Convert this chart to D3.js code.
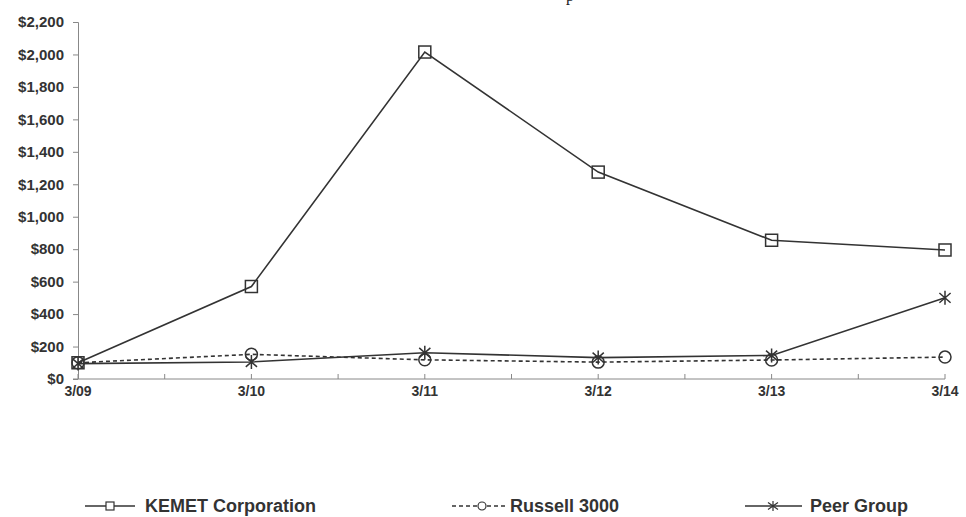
<!DOCTYPE html>
<html lang="en">
<head>
    <meta charset="UTF-8">
    <title>Cumulative Total Return</title>
    <script src="https://d3js.org/d3.v7.min.js"></script>
    <style>
        html, body { margin: 0; padding: 0; background: #fff; overflow: hidden; }
        svg { display: block; }
        text { font-family: "Liberation Sans", Arial, sans-serif; }
    </style>
</head>
<body>
<svg width="966" height="517"></svg>
<script>
    const width = 966;
    const height = 517;
    const margin = {top: 22, right: 21, bottom: 138, left: 78};
    const innerWidth = width - margin.left - margin.right;
    const innerHeight = height - margin.top - margin.bottom;

    // data
    const periods = ["3/09", "3/10", "3/11", "3/12", "3/13", "3/14"];
    const kemet = [100, 570, 2015, 1275, 855, 795];
    const russell = [100, 152, 118, 104, 117, 135];
    const peer = [95, 105, 162, 132, 145, 500];
    const yTicks = [0, 200, 400, 600, 800, 1000, 1200, 1400, 1600, 1800, 2000, 2200];

    const svg = d3.select('svg')
        .attr('width', width)
        .attr('height', height);

    // cut-off title remnant at the very top
    svg.append("text")
        .attr("x", 570)
        .attr("y", 1)
        .attr("text-anchor", "middle")
        .style("font-family", "'Liberation Serif', serif")
        .style("font-size", "16px")
        .style("fill", "#222")
        .text("p");

    const g = svg.append('g')
        .attr('transform', `translate(${margin.left},${margin.top})`);

    const x = d3.scalePoint()
        .domain(periods)
        .range([0, innerWidth]);

    const y = d3.scaleLinear()
        .domain([0, 2200])
        .range([innerHeight, 0]);

    // y axis
    const yAxis = g.append("g")
        .call(d3.axisLeft(y).tickValues(yTicks).tickSize(5).tickPadding(9)
            .tickFormat(d => "$" + d3.format(",")(d)));
    yAxis.select(".domain").attr("stroke", "#888").attr("d", `M-5,0.5H0.5V${innerHeight}`);
    yAxis.selectAll(".tick line").attr("stroke", "#888");
    yAxis.selectAll("text")
        .style("font-size", "15px")
        .style("font-weight", "bold")
        .style("fill", "#333");

    // x axis with half-step minor ticks
    const step = x.step();
    const xTickPos = d3.range(0, periods.length * 2 - 1).map(i => i * step / 2);
    const xg = g.append("g").attr("transform", `translate(0,${innerHeight})`);
    xg.append("line")
        .attr("x1", -5).attr("x2", innerWidth)
        .attr("stroke", "#888");
    xg.selectAll("line.tk")
        .data(xTickPos).enter().append("line")
        .attr("class", "tk")
        .attr("x1", d => d).attr("x2", d => d)
        .attr("y1", 0).attr("y2", -5)
        .attr("stroke", "#888");
    xg.selectAll("text")
        .data(periods).enter().append("text")
        .attr("x", d => x(d))
        .attr("y", 17)
        .attr("text-anchor", "middle")
        .style("font-size", "14px")
        .style("font-weight", "bold")
        .style("fill", "#333")
        .text(d => d);

    const line = d3.line()
        .x((d, i) => x(periods[i]))
        .y(d => y(d));

    const stroke = "#333";

    // marker drawers
    function drawSquare(sel, cx, cy) {
        sel.append("rect")
            .attr("x", cx - 6).attr("y", cy - 6)
            .attr("width", 12).attr("height", 12)
            .attr("fill", "none").attr("stroke", stroke).attr("stroke-width", 1.5);
    }
    function drawCircle(sel, cx, cy) {
        sel.append("circle")
            .attr("cx", cx).attr("cy", cy).attr("r", 6)
            .attr("fill", "none").attr("stroke", stroke).attr("stroke-width", 1.5);
    }
    function drawStar(sel, cx, cy) {
        const r = 7;
        const p = `M${cx},${cy - r}V${cy + r}` +
            `M${cx - r * 0.8},${cy - r * 0.7}L${cx + r * 0.8},${cy + r * 0.7}` +
            `M${cx - r * 0.8},${cy + r * 0.7}L${cx + r * 0.8},${cy - r * 0.7}`;
        sel.append("path").attr("d", p)
            .attr("fill", "none").attr("stroke", stroke).attr("stroke-width", 1.5);
    }

    const series = [
        {name: "KEMET Corporation", values: kemet, dash: null, marker: drawSquare},
        {name: "Russell 3000", values: russell, dash: "4,3", marker: drawCircle},
        {name: "Peer Group", values: peer, dash: null, marker: drawStar}
    ];

    series.forEach(function(s) {
        g.append("path")
            .datum(s.values)
            .attr("d", line)
            .attr("fill", "none")
            .attr("stroke", stroke)
            .attr("stroke-width", 1.6)
            .attr("stroke-dasharray", s.dash);
        const mg = g.append("g");
        s.values.forEach(function(v, i) {
            s.marker(mg, x(periods[i]), y(v));
        });
    });

    // legend
    const legendY = 506;
    const legendItems = [
        {x1: 85, x2: 135, mx: 110, tx: 145},
        {x1: 452, x2: 505, mx: 482, tx: 510},
        {x1: 745, x2: 802, mx: 773, tx: 810}
    ];
    const leg = svg.append("g");
    series.forEach(function(s, i) {
        const it = legendItems[i];
        leg.append("line")
            .attr("x1", it.x1).attr("x2", it.x2)
            .attr("y1", legendY).attr("y2", legendY)
            .attr("stroke", stroke).attr("stroke-width", 1.5)
            .attr("stroke-dasharray", s.dash);
        if (i === 0) {
            leg.append("rect")
                .attr("x", it.mx - 4).attr("y", legendY - 4)
                .attr("width", 8).attr("height", 8)
                .attr("fill", "#fff").attr("stroke", stroke).attr("stroke-width", 1.2);
        } else if (i === 1) {
            leg.append("circle")
                .attr("cx", it.mx).attr("cy", legendY).attr("r", 4)
                .attr("fill", "#fff").attr("stroke", stroke).attr("stroke-width", 1.2);
        } else {
            const r = 5;
            leg.append("path")
                .attr("d", `M${it.mx},${legendY - r}V${legendY + r}` +
                    `M${it.mx - r},${legendY - r * 0.7}L${it.mx + r},${legendY + r * 0.7}` +
                    `M${it.mx - r},${legendY + r * 0.7}L${it.mx + r},${legendY - r * 0.7}`)
                .attr("stroke", stroke).attr("stroke-width", 1.2);
        }
        leg.append("text")
            .attr("x", it.tx)
            .attr("y", legendY + 6)
            .style("font-size", "18px")
            .style("font-weight", "bold")
            .style("fill", "#333")
            .text(s.name);
    });
</script>
</body>
</html>
